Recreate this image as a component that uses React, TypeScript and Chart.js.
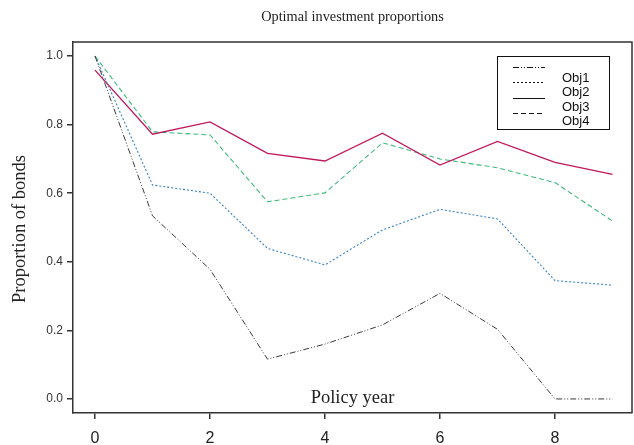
import React, { useEffect, useRef } from "react";
import { Chart, registerables } from "chart.js";

Chart.register(...registerables);

// Policy years and bond proportions for each objective
const years = [0, 1, 2, 3, 4, 5, 6, 7, 8, 9];
const obj1 = [1.0, 0.534, 0.378, 0.116, 0.16, 0.216, 0.308, 0.203, 0.0, 0.0];
const obj2 = [1.0, 0.624, 0.6, 0.439, 0.391, 0.493, 0.553, 0.525, 0.345, 0.332];
const obj3 = [0.959, 0.772, 0.808, 0.716, 0.694, 0.775, 0.682, 0.751, 0.69, 0.655];
const obj4 = [1.0, 0.779, 0.77, 0.575, 0.601, 0.747, 0.7, 0.674, 0.631, 0.519];

const seriesNames = ["Obj1", "Obj2", "Obj3", "Obj4"];
const xTicks = [0, 2, 4, 6, 8];
const yTicks = [0, 0.2, 0.4, 0.6, 0.8, 1.0];

const chartTitle = "Optimal investment proportions";
const xTitle = "Policy year";
const yTitle = "Proportion of bonds";

const W = 634;
const H = 445;

const AXIS = "#333333";
const SERIF = "'Liberation Serif', 'DejaVu Serif', serif";
const SANS = "'Liberation Sans', Arial, sans-serif";

const styles = [
  { color: "#3a3a3a", dash: [6, 2, 1, 2, 1, 2], width: 1 },
  { color: "#3b82c4", dash: [2, 2], width: 1.1 },
  { color: "#c0175d", dash: [], width: 1.3 },
  { color: "#3dbb78", dash: [5, 3], width: 1.1 },
];

const frameAndText = {
  id: "frameAndText",
  afterDraw(chart: any) {
    const { ctx, chartArea } = chart;
    const { left, right, top, bottom } = chartArea;
    ctx.save();
    // top and right edges of the frame
    ctx.strokeStyle = AXIS;
    ctx.lineWidth = 1.5;
    ctx.beginPath();
    ctx.moveTo(left, top);
    ctx.lineTo(right, top);
    ctx.lineTo(right, bottom);
    ctx.stroke();

    // titles
    ctx.fillStyle = "#222";
    ctx.textAlign = "center";
    ctx.textBaseline = "middle";
    ctx.font = `14.3px ${SERIF}`;
    ctx.fillText(chartTitle, (left + right) / 2, 17);
    ctx.font = `18.5px ${SERIF}`;
    ctx.fillText(xTitle, (left + right) / 2, 398);
    ctx.save();
    ctx.translate(20, 229);
    ctx.rotate(-Math.PI / 2);
    ctx.fillText(yTitle, 0, 0);
    ctx.restore();

    // legend
    const bx = 497, by = 56, bw = 112, bh = 73;
    ctx.fillStyle = "#fff";
    ctx.fillRect(bx, by, bw, bh);
    ctx.strokeStyle = "#111";
    ctx.lineWidth = 1;
    ctx.strokeRect(bx + 0.5, by + 0.5, bw, bh);
    ctx.font = `13px ${SANS}`;
    ctx.textAlign = "left";
    chart.data.datasets.forEach((ds: any, i: number) => {
      const ly = 67 + i * 15.3;
      ctx.strokeStyle = "#111";
      ctx.lineWidth = 1;
      ctx.setLineDash(styles[i].dash);
      ctx.beginPath();
      ctx.moveTo(513, Math.round(ly) + 0.5);
      ctx.lineTo(545, Math.round(ly) + 0.5);
      ctx.stroke();
      ctx.setLineDash([]);
      ctx.fillStyle = "#111";
      ctx.fillText(ds.label, 562, 78 + i * 14.5);
    });
    ctx.restore();
  },
};

export default function App() {
  const ref = useRef<HTMLCanvasElement | null>(null);

  useEffect(() => {
    if (!ref.current) return;
    const all = [obj1, obj2, obj3, obj4];
    const chart = new Chart(ref.current, {
      type: "line",
      data: {
        datasets: all.map((vals, i) => ({
          label: seriesNames[i],
          data: years.map((x, j) => ({ x, y: vals[j] })),
          borderColor: styles[i].color,
          borderDash: styles[i].dash,
          borderWidth: styles[i].width,
          pointRadius: 0,
          tension: 0,
          fill: false,
        })),
      },
      options: {
        responsive: false,
        animation: false,
        devicePixelRatio: 1,
        layout: { padding: { top: 42, right: 2, left: 0, bottom: 0 } },
        plugins: {
          legend: { display: false },
          title: { display: false },
          tooltip: { enabled: false },
        },
        scales: {
          x: {
            type: "linear",
            min: -0.383,
            max: 9.339,
            afterBuildTicks: (s: any) => {
              s.ticks = xTicks.map((v) => ({ value: v }));
            },
            afterFit: (s: any) => {
              s.height = 32;
            },
            grid: {
              drawOnChartArea: false,
              drawTicks: true,
              tickLength: 6,
              color: AXIS,
              lineWidth: 1.5,
            },
            border: { display: true, color: AXIS, width: 1.5 },
            ticks: {
              padding: 10,
              color: "#222",
              font: { family: SANS, size: 16 },
              maxRotation: 0,
              callback: (v: any) => String(v),
            },
          },
          y: {
            type: "linear",
            min: -0.041,
            max: 1.041,
            afterBuildTicks: (s: any) => {
              s.ticks = yTicks.map((v) => ({ value: v }));
            },
            afterFit: (s: any) => {
              s.width = 73;
            },
            grid: {
              drawOnChartArea: false,
              drawTicks: true,
              tickLength: 6,
              color: AXIS,
              lineWidth: 1.5,
            },
            border: { display: true, color: AXIS, width: 1.5 },
            ticks: {
              padding: 4,
              color: "#333",
              font: { family: SANS, size: 12 },
              callback: (v: any) => Number(v).toFixed(1),
            },
          },
        },
      },
      plugins: [frameAndText],
    } as any);
    return () => chart.destroy();
  }, []);

  return (
    <div style={{ position: "absolute", left: 0, top: 0, width: W, height: H, background: "#fff" }}>
      <canvas ref={ref} width={W} height={H} />
    </div>
  );
}
